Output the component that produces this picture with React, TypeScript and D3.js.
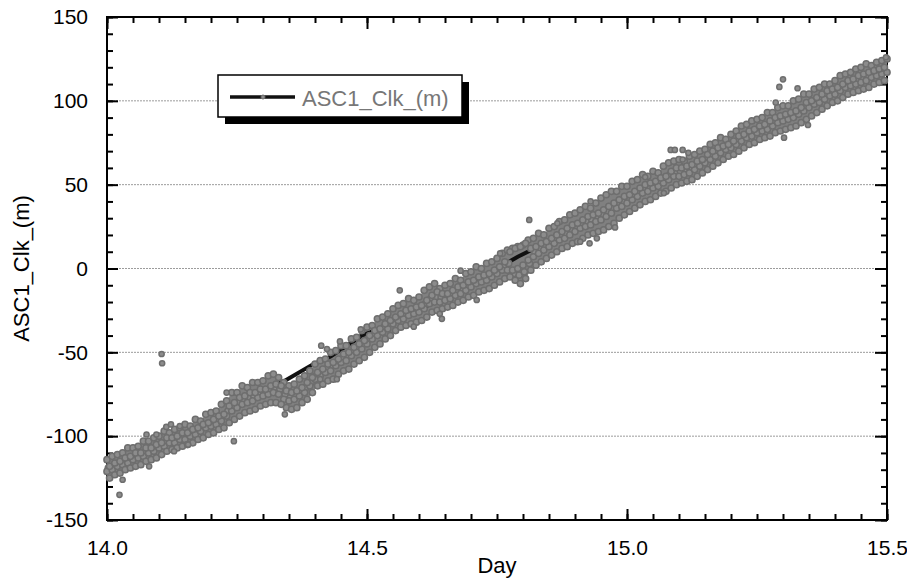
import React, { useEffect, useRef } from "react";
import * as d3 from "d3";

// sampling of the dense band: rows at 14.00 + i*0.01, staggered rows shifted by part of a step
const startDay = 14.0;
const sampleStep = 0.01;
const halfStep = 0.005;
const quarterStep = 0.0025;

// upper edge of the band (m)
const bandTop = [
  -114, -112, -111, -110, -107, -107, -106, -103, -103, -101,
  -100, -97, -98, -96, -95, -93, -94, -90, -91, -87,
  -86, -85, -81, -79, -74, -74, -70, -71, -68, -68,
  -67, -64, -63, -65, -68, -70, -69, -66, -64, -61,
  -57, -55, -54, -50, -49, -46, -46, -42, -41, -37,
  -35, -34, -30, -29, -27, -24, -22, -21, -18, -19,
  -17, -13, -11, -9, -12, -10, -9, -6, -7, -3,
  -2, 1, 0, 3, 4, 6, 9, 11, 12, 13,
  14, 17, 18, 21, 20, 24, 25, 28, 29, 32,
  33, 35, 37, 36, 39, 42, 44, 46, 46, 49,
  49, 52, 53, 56, 55, 58, 57, 61, 63, 64,
  65, 64, 67, 68, 70, 71, 74, 75, 78, 77,
  80, 82, 85, 86, 88, 89, 90, 93, 93, 96,
  97, 97, 100, 101, 104, 104, 107, 108, 110, 110,
  112, 115, 116, 117, 119, 120, 122, 121, 123, 124,
  125,
];

// staggered row just below the top edge
const bandUpper = [
  -118, -116, -115, -113, -112, -110, -110, -107, -107, -105,
  -104, -101, -101, -100, -98, -98, -96, -95, -93, -92,
  -90, -88, -87, -82, -80, -77, -76, -74, -74, -72,
  -72, -70, -69, -70, -73, -74, -73, -71, -68, -65,
  -62, -60, -57, -56, -54, -51, -50, -47, -45, -43,
  -40, -37, -36, -33, -31, -29, -27, -25, -24, -23,
  -22, -19, -16, -14, -15, -15, -13, -11, -10, -8,
  -7, -5, -4, -3, -1, 1, 4, 10, 12, 13,
  15, 12, 13, 15, 16, 18, 20, 22, 24, 26,
  27, 29, 31, 32, 33, 35, 37, 39, 41, 43,
  44, 46, 48, 50, 51, 52, 54, 55, 58, 60,
  60, 61, 62, 64, 65, 68, 70, 72, 73, 74,
  76, 79, 80, 82, 83, 85, 86, 88, 90, 91,
  92, 93, 94, 96, 99, 100, 102, 104, 106, 107,
  108, 110, 112, 113, 115, 116, 117, 118, 119, 120,
];

// centre row of the band
const bandMiddle = [
  -119, -118, -116, -115, -114, -112, -111, -110, -108, -107,
  -105, -104, -103, -102, -100, -99, -98, -97, -95, -93,
  -92, -90, -88, -85, -82, -80, -78, -77, -76, -74,
  -74, -72, -71, -72, -75, -77, -75, -73, -71, -68,
  -64, -62, -60, -58, -56, -54, -52, -50, -47, -45,
  -42, -40, -38, -35, -33, -31, -29, -28, -26, -25,
  -24, -21, -18, -17, -17, -17, -15, -13, -12, -10,
  -9, -7, -6, -5, -3, -1, 1, 3, -3, -4,
  -2, 3, 10, 12, 14, 16, 18, 20, 21, 23,
  25, 27, 28, 29, 31, 32, 34, 36, 38, 40,
  42, 44, 45, 47, 49, 50, 52, 53, 56, 57,
  58, 59, 60, 61, 63, 65, 67, 70, 71, 72,
  74, 76, 78, 80, 81, 83, 84, 85, 87, 89,
  90, 91, 92, 94, 96, 98, 100, 101, 103, 105,
  106, 108, 110, 111, 112, 113, 114, 116, 117, 118,
  119,
];

// row just above the bottom edge
const bandLower = [
  -121, -120, -118, -117, -116, -114, -113, -112, -110, -109,
  -107, -106, -104, -104, -102, -102, -100, -99, -97, -95,
  -94, -93, -91, -88, -85, -83, -81, -80, -79, -77,
  -76, -75, -74, -75, -78, -79, -78, -76, -74, -70,
  -66, -64, -62, -61, -58, -56, -55, -52, -50, -48,
  -45, -42, -40, -38, -36, -33, -31, -30, -28, -27,
  -26, -24, -21, -20, -20, -19, -18, -16, -15, -13,
  -11, -9, -8, -7, -5, -3, -1, -1, -1, 0,
  2, 5, 7, 9, 11, 13, 15, 17, 18, 20,
  22, 24, 25, 26, 28, 29, 31, 33, 36, 37,
  39, 41, 43, 45, 46, 48, 49, 51, 53, 55,
  55, 56, 57, 59, 61, 63, 65, 67, 69, 71,
  72, 74, 76, 78, 79, 81, 82, 83, 85, 87,
  88, 89, 90, 92, 94, 96, 98, 99, 101, 103,
  104, 106, 108, 109, 110, 111, 112, 114, 115, 116,
  117,
];

// staggered bottom edge
const bandBottom = [
  -125, -123, -122, -120, -119, -118, -117, -115, -114, -113,
  -111, -109, -108, -107, -106, -105, -104, -102, -101, -99,
  -98, -96, -95, -92, -90, -88, -86, -85, -84, -82,
  -81, -80, -80, -81, -83, -84, -83, -80, -78, -74,
  -70, -69, -67, -66, -63, -61, -60, -57, -55, -53,
  -50, -47, -45, -42, -40, -37, -35, -34, -33, -32,
  -31, -29, -26, -25, -24, -23, -22, -20, -19, -17,
  -16, -14, -13, -12, -10, -8, -6, -5, -7, -9,
  -6, -1, 2, 4, 6, 8, 10, 12, 13, 15,
  16, 18, 20, 21, 22, 23, 25, 27, 30, 32,
  34, 36, 38, 40, 41, 43, 45, 46, 48, 50,
  51, 52, 53, 55, 57, 59, 61, 63, 65, 67,
  68, 70, 72, 74, 75, 77, 78, 79, 81, 82,
  83, 84, 85, 87, 89, 91, 93, 95, 97, 99,
  100, 102, 104, 105, 106, 107, 108, 110, 111, 112,
];

// scattered points away from the band
const outlierDays = [
  14.024, 14.03, 14.081, 14.076, 14.095, 14.114, 14.123, 14.14, 14.156, 14.129,
  14.105, 14.106, 14.23, 14.244, 14.342, 14.41, 14.412, 14.423, 14.448, 14.442,
  14.488, 14.563, 14.59, 14.64, 14.644, 14.68, 14.711, 14.756, 14.812, 14.866,
  14.91, 14.928, 14.942, 14.93, 14.977, 15.035, 15.071, 15.084, 15.092, 15.107,
  15.118, 15.107, 15.3, 15.293, 15.328, 15.286, 15.302, 15.348, 15.498,
];
const outlierValues = [
  -135, -126, -118, -99, -99, -94.5, -93, -94, -105, -109,
  -51, -56.5, -74, -103, -87, -66, -46, -48, -43.5, -66,
  -36.3, -13, -34.7, -27, -30, -1.3, -18.8, 9, 29, 27,
  16, 15, 18, 40, 24.5, 54.5, 45, 70.7, 70.7, 70.7,
  69, 65, 112.8, 108.3, 107.5, 99, 78, 85.6, 126,
];

// connecting line of the series (visible only where the markers leave gaps)
const lineDays = [
  14.0, 14.1, 14.2, 14.3, 14.342, 14.394, 14.43, 14.492, 14.525, 14.63,
  14.7, 14.79, 14.9, 15.0, 15.1, 15.2, 15.3, 15.4, 15.5,
];
const lineValues = [
  -121, -105, -92, -74, -67, -57.5, -52.5, -39.7, -36, -20,
  -9, 7, 24, 42, 58, 74, 89, 106, 119,
];

const xTicks = [14.0, 14.5, 15.0, 15.5];
const yTicks = [-150, -100, -50, 0, 50, 100, 150];
const gridValues = [-100, -50, 0, 50, 100];
const seriesName = "ASC1_Clk_(m)";
const xTitle = "Day";

const W = 907;
const H = 579;
const margin = { top: 17, right: 20, bottom: 59, left: 107 };
const font = "'Liberation Sans', Arial, Helvetica, sans-serif";
const markerFill = "#8c8c8c";
const markerStroke = "#6e6e6e";
const cloudFill = "#808080";

export default function App() {
  const svgRef = useRef<SVGSVGElement>(null);

  useEffect(() => {
    const svg = d3.select(svgRef.current);
    svg.selectAll("*").remove();

    const x = d3.scaleLinear().domain([14, 15.5]).range([margin.left, W - margin.right]);
    const y = d3.scaleLinear().domain([-150, 150]).range([H - margin.bottom, margin.top]);
    const x0 = margin.left, x1 = W - margin.right, y0 = margin.top, y1 = H - margin.bottom;

    // dotted grid
    svg.append("g")
      .selectAll("line")
      .data(gridValues)
      .join("line")
      .attr("x1", x0).attr("x2", x1)
      .attr("y1", (d) => y(d)).attr("y2", (d) => y(d))
      .attr("stroke", "#9c9c9c")
      .attr("stroke-width", 1)
      .attr("stroke-dasharray", "2,1");

    // ticks, all pointing inwards
    const xMinor = d3.range(0, 31).map((i) => 14 + i * 0.05);
    const yMinor = d3.range(0, 31).map((i) => -150 + i * 10);
    const noLabel = () => "";

    const styleAxis = (g: any) => {
      g.select(".domain").remove();
      g.selectAll("line").attr("stroke", "#000").attr("stroke-width", 2);
      g.attr("font-family", font).attr("font-size", 21);
      g.selectAll("text").attr("fill", "#000");
    };

    svg.append("g").attr("transform", `translate(0,${y1})`)
      .call(d3.axisBottom(x).tickValues(xMinor).tickSizeInner(-6).tickSizeOuter(0).tickFormat(noLabel))
      .call(styleAxis);
    svg.append("g").attr("transform", `translate(0,${y1})`)
      .call(d3.axisBottom(x).tickValues(xTicks).tickSizeInner(-11).tickSizeOuter(0).tickPadding(20)
        .tickFormat((d: any) => (+d).toFixed(1)))
      .call(styleAxis);
    svg.append("g").attr("transform", `translate(0,${y0})`)
      .call(d3.axisTop(x).tickValues(xMinor).tickSizeInner(-6).tickSizeOuter(0).tickFormat(noLabel))
      .call(styleAxis);
    svg.append("g").attr("transform", `translate(0,${y0})`)
      .call(d3.axisTop(x).tickValues(xTicks).tickSizeInner(-12).tickSizeOuter(0).tickFormat(noLabel))
      .call(styleAxis);

    svg.append("g").attr("transform", `translate(${x0},0)`)
      .call(d3.axisLeft(y).tickValues(yMinor).tickSizeInner(-6).tickSizeOuter(0).tickFormat(noLabel))
      .call(styleAxis);
    svg.append("g").attr("transform", `translate(${x0},0)`)
      .call(d3.axisLeft(y).tickValues(yTicks).tickSizeInner(-11).tickSizeOuter(0).tickPadding(19)
        .tickFormat((d: any) => String(d)))
      .call(styleAxis);
    svg.append("g").attr("transform", `translate(${x1},0)`)
      .call(d3.axisRight(y).tickValues(yMinor).tickSizeInner(-6).tickSizeOuter(0).tickFormat(noLabel))
      .call(styleAxis);
    svg.append("g").attr("transform", `translate(${x1},0)`)
      .call(d3.axisRight(y).tickValues(yTicks).tickSizeInner(-12).tickSizeOuter(0).tickFormat(noLabel))
      .call(styleAxis);

    // frame
    svg.append("rect")
      .attr("x", x0).attr("y", y0)
      .attr("width", x1 - x0).attr("height", y1 - y0)
      .attr("fill", "none").attr("stroke", "#000").attr("stroke-width", 2);

    // dense point cloud underneath the markers (between the sampled rows)
    type Span = [number, number, number];
    const cloud = d3.area<Span>()
      .x((d) => x(d[0]))
      .y0((d) => y(d[1]))
      .y1((d) => y(d[2]));
    const spanA: Span[] = bandTop.map((v, i) => [startDay + i * sampleStep, bandLower[i], v]);
    const spanB: Span[] = bandUpper.map((v, i) => [startDay + i * sampleStep + halfStep, bandBottom[i], v]);
    svg.append("g")
      .selectAll("path")
      .data([spanA, spanB])
      .join("path")
      .attr("d", (d) => cloud(d))
      .attr("fill", cloudFill);

    // series line
    const lineData = lineDays.map((d, i) => [d, lineValues[i]] as [number, number]);
    svg.append("path")
      .datum(lineData)
      .attr("d", d3.line<[number, number]>().x((d) => x(d[0])).y((d) => y(d[1])))
      .attr("fill", "none")
      .attr("stroke", "#111")
      .attr("stroke-width", 4);

    // markers: the dense band first, then the scattered points
    const band: [number, number][] = [];
    bandTop.forEach((v, i) => band.push([startDay + i * sampleStep, v]));
    bandMiddle.forEach((v, i) => band.push([startDay + i * sampleStep + quarterStep, v]));
    bandLower.forEach((v, i) => band.push([startDay + i * sampleStep, v]));
    bandUpper.forEach((v, i) => band.push([startDay + i * sampleStep + halfStep, v]));
    bandBottom.forEach((v, i) => band.push([startDay + i * sampleStep + halfStep, v]));
    const scattered = outlierDays.map((d, i) => [d, outlierValues[i]] as [number, number]);

    const drawMarkers = (data: [number, number][], r: number) =>
      svg.append("g")
        .selectAll("circle")
        .data(data.filter((p) => p[0] <= 15.5))
        .join("circle")
        .attr("cx", (d) => x(d[0]))
        .attr("cy", (d) => y(d[1]))
        .attr("r", r)
        .attr("fill", markerFill)
        .attr("stroke", markerStroke)
        .attr("stroke-width", 1.5);

    drawMarkers(band, 3.1);
    drawMarkers(scattered, 2.6);

    // legend with drop shadow
    const lg = svg.append("g");
    lg.append("rect").attr("x", 225).attr("y", 82).attr("width", 244).attr("height", 42).attr("fill", "#000");
    lg.append("rect").attr("x", 218).attr("y", 75).attr("width", 244).attr("height", 42)
      .attr("fill", "#fff").attr("stroke", "#000").attr("stroke-width", 1.5);
    lg.append("line").attr("x1", 230).attr("x2", 295).attr("y1", 97).attr("y2", 97)
      .attr("stroke", "#111").attr("stroke-width", 3.5);
    lg.append("circle").attr("cx", 263).attr("cy", 97).attr("r", 2)
      .attr("fill", markerFill).attr("stroke", markerStroke).attr("stroke-width", 1);
    lg.append("text").attr("x", 302).attr("y", 106)
      .attr("font-family", font).attr("font-size", 22).attr("fill", "#777")
      .text(seriesName);

    // axis titles
    svg.append("text")
      .attr("x", (x0 + x1) / 2).attr("y", 573)
      .attr("text-anchor", "middle")
      .attr("font-family", font).attr("font-size", 22)
      .text(xTitle);
    svg.append("text")
      .attr("transform", `translate(29,${(y0 + y1) / 2}) rotate(-90)`)
      .attr("text-anchor", "middle")
      .attr("font-family", font).attr("font-size", 22)
      .text(seriesName);
  }, []);

  return (
    <svg
      ref={svgRef}
      width={W}
      height={H}
      style={{ position: "absolute", left: 0, top: 0, background: "#fff" }}
    />
  );
}
